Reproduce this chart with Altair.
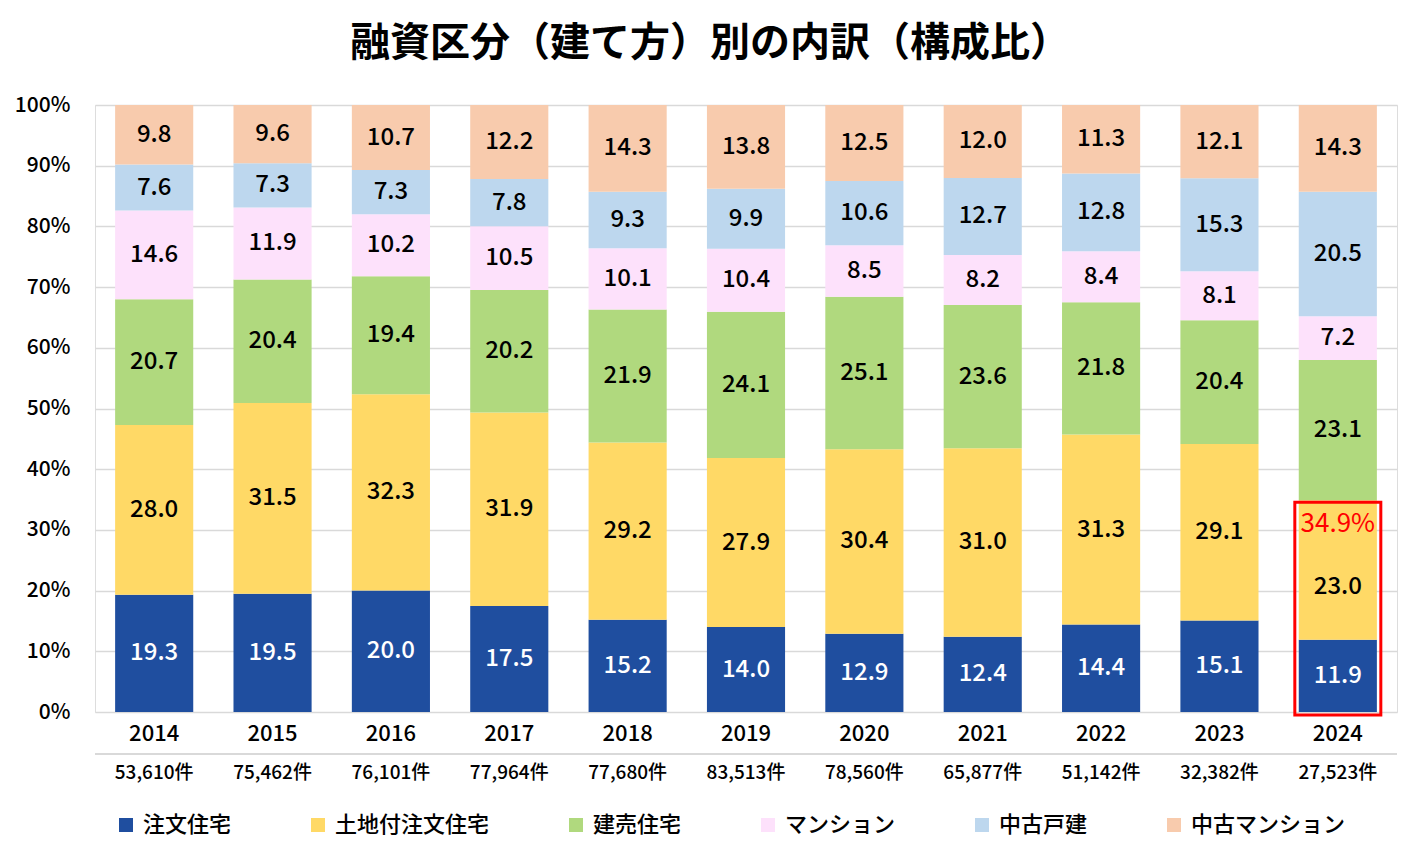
import altair as alt
import pandas as pd

years = ["2014", "2015", "2016", "2017", "2018", "2019", "2020", "2021", "2022", "2023", "2024"]
counts = ["53,610件", "75,462件", "76,101件", "77,964件", "77,680件", "83,513件",
          "78,560件", "65,877件", "51,142件", "32,382件", "27,523件"]
categories = ["注文住宅", "土地付注文住宅", "建売住宅", "マンション", "中古戸建", "中古マンション"]
colors = ["#1f4e9f", "#ffd966", "#b0d97e", "#fde1fb", "#bdd7ee", "#f8cbad"]

s_chumon = [19.3, 19.5, 20.0, 17.5, 15.2, 14.0, 12.9, 12.4, 14.4, 15.1, 11.9]
s_tochi = [28.0, 31.5, 32.3, 31.9, 29.2, 27.9, 30.4, 31.0, 31.3, 29.1, 23.0]
s_tateuri = [20.7, 20.4, 19.4, 20.2, 21.9, 24.1, 25.1, 23.6, 21.8, 20.4, 23.1]
s_mansion = [14.6, 11.9, 10.2, 10.5, 10.1, 10.4, 8.5, 8.2, 8.4, 8.1, 7.2]
s_chuko_ko = [7.6, 7.3, 7.3, 7.8, 9.3, 9.9, 10.6, 12.7, 12.8, 15.3, 20.5]
s_chuko_m = [9.8, 9.6, 10.7, 12.2, 14.3, 13.8, 12.5, 12.0, 11.3, 12.1, 14.3]

highlight_year = "2024"
highlight_label = "34.9%"

series = [s_chumon, s_tochi, s_tateuri, s_mansion, s_chuko_ko, s_chuko_m]

rows = []
for i, y in enumerate(years):
    total = sum(s[i] for s in series)
    cum = 0.0
    for c, s in zip(categories, series):
        v = s[i]
        start = cum / total
        cum += v
        end = cum / total
        rows.append({"year": y, "cat": c, "val": v, "label": f"{v:.1f}",
                     "start": start, "end": end, "mid": (start + end) / 2,
                     "shifted": (y == highlight_year and c == categories[1])})
df = pd.DataFrame(rows)

hi = df[(df.year == highlight_year) & (df.cat.isin(categories[:2]))]
box_df = pd.DataFrame([{"year": highlight_year, "y0": 0.0, "y1": hi.end.max(), "label": highlight_label}])
count_df = pd.DataFrame({"year": years, "count": counts})

FONT = "Noto Sans CJK JP"
W, H = 1302, 607

xenc = alt.X("year:N", sort=years,
             scale=alt.Scale(paddingInner=0.34, paddingOuter=0.17),
             axis=alt.Axis(title=None, labelAngle=0, labelFontSize=22, labelFont=FONT,
                           labelFontWeight=500,
                           labelColor="#000000", ticks=False, domain=False, labelPadding=11))

bars = alt.Chart(df).mark_bar().encode(
    x=xenc,
    y=alt.Y("start:Q", scale=alt.Scale(domain=[0, 1]),
            axis=alt.Axis(title=None, format=".0%", values=[i / 10 for i in range(11)],
                          labelFontSize=21, labelFont=FONT, labelColor="#000000",
                          labelFontWeight=500,
                          ticks=False, domain=False, labelPadding=25,
                          gridColor="#d9d9d9", gridWidth=1.3)),
    y2="end:Q",
    color=alt.Color("cat:N", sort=categories,
                    scale=alt.Scale(domain=categories, range=colors),
                    legend=alt.Legend(title=None, orient="none", legendX=20, legendY=709,
                                      direction="horizontal", columns=6, columnPadding=75,
                                      symbolType="square", symbolSize=196, symbolStrokeWidth=0,
                                      labelFontSize=22, labelFont=FONT, labelColor="#000000",
                                      labelFontWeight=500,
                                      labelOffset=6, padding=0)),
)

labels_dark = alt.Chart(df).transform_filter(
    (alt.datum.cat != categories[0]) & (alt.datum.shifted == False)
).mark_text(
    fontSize=24, font=FONT, fontWeight=500, color="#000000", baseline="middle"
).encode(x=alt.X("year:N", sort=years), y="mid:Q", text="label:N")

labels_shift = alt.Chart(df).transform_filter(alt.datum.shifted == True).mark_text(
    fontSize=24, font=FONT, fontWeight=500, color="#000000", baseline="middle", dy=17
).encode(x=alt.X("year:N", sort=years), y="mid:Q", text="label:N")

labels_light = alt.Chart(df).transform_filter(alt.datum.cat == categories[0]).mark_text(
    fontSize=24, font=FONT, fontWeight=500, color="#ffffff", baseline="middle"
).encode(x=alt.X("year:N", sort=years), y="mid:Q", text="label:N")

box = alt.Chart(box_df).mark_bar(filled=False, stroke="#ff0000", strokeWidth=3, size=86,
                                 yOffset=3, y2Offset=2).encode(
    x=alt.X("year:N", sort=years), y="y0:Q", y2="y1:Q")

box_text = alt.Chart(box_df).mark_text(fontSize=26, font=FONT, fontWeight=400, color="#ff0000",
                                       baseline="middle", dy=24).encode(
    x=alt.X("year:N", sort=years), y="y1:Q", text="label:N")

sep = alt.Chart(count_df).mark_rule(color="#d9d9d9", strokeWidth=1.3).encode(
    x=alt.value(0), x2=alt.value(W), y=alt.value(H + 42))

cnt = alt.Chart(count_df).mark_text(fontSize=19, font=FONT, fontWeight=500, color="#000000",
                                    baseline="middle").encode(
    x=alt.X("year:N", sort=years), y=alt.value(H + 61), text="count:N")

chart = alt.layer(bars, labels_dark, labels_shift, labels_light, box, box_text, sep, cnt).properties(
    width=W, height=H,
    title=alt.TitleParams("融資区分（建て方）別の内訳（構成比）", fontSize=40, fontWeight="bold",
                          font=FONT, color="#000000", anchor="middle", dx=-36, offset=30),
    autosize=alt.AutoSizeParams(type="none"),
    padding={"left": 87, "top": 97, "right": 12, "bottom": 128},
).configure_view(stroke=None).configure(background="#ffffff")

chart.save("out.html", embed_options={"renderer": "svg", "actions": False})
